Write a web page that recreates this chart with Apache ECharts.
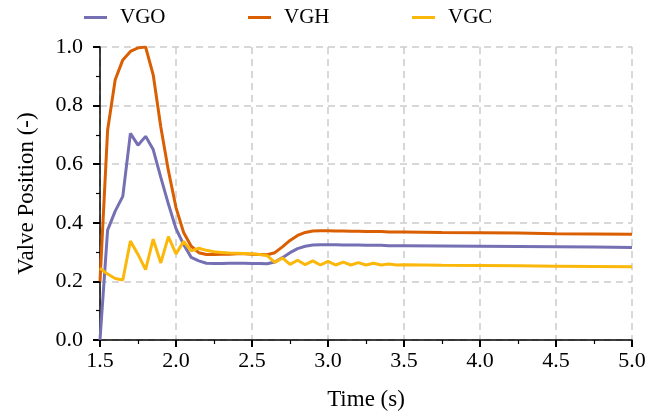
<!DOCTYPE html>
<html>
<head>
<meta charset="utf-8">
<script src="https://cdn.jsdelivr.net/npm/echarts@6/dist/echarts.min.js"></script>
<style>
  html, body { margin: 0; padding: 0; background: #fff; }
  #chart { width: 660px; height: 419px; }
</style>
</head>
<body>
<div id="chart"></div>
<script>
  // time stamps (s)
  var times = [1.50, 1.55, 1.60, 1.65, 1.70, 1.75, 1.80, 1.85, 1.90, 1.95,
    2.00, 2.05, 2.10, 2.15, 2.20, 2.25, 2.30, 2.35, 2.40, 2.45,
    2.50, 2.55, 2.60, 2.65, 2.70, 2.75, 2.80, 2.85, 2.90, 2.95,
    3.00, 3.05, 3.10, 3.15, 3.20, 3.25, 3.30, 3.35, 3.40, 3.45,
    3.50, 3.75, 4.00, 4.25, 4.50, 4.75, 5.00];
  // valve positions
  var vgo = [0, 0.375, 0.44, 0.49, 0.705, 0.665, 0.695, 0.65, 0.555, 0.464,
    0.38, 0.326, 0.282, 0.27, 0.262, 0.261, 0.261, 0.262, 0.262, 0.262,
    0.261, 0.261, 0.26, 0.266, 0.281, 0.298, 0.312, 0.32, 0.324, 0.325,
    0.325, 0.325, 0.324, 0.324, 0.324, 0.323, 0.323, 0.323, 0.322, 0.322,
    0.322, 0.321, 0.32, 0.319, 0.318, 0.317, 0.316];
  var vgh = [0.2, 0.716, 0.888, 0.956, 0.985, 0.997, 1.0, 0.905, 0.727, 0.578,
    0.452, 0.367, 0.32, 0.298, 0.292, 0.292, 0.293, 0.293, 0.294, 0.294,
    0.293, 0.292, 0.291, 0.298, 0.318, 0.34, 0.357, 0.367, 0.372, 0.373,
    0.373, 0.372, 0.372, 0.371, 0.371, 0.37, 0.37, 0.37, 0.369, 0.369,
    0.369, 0.367, 0.366, 0.365, 0.363, 0.362, 0.361];
  var vgc = [0.245, 0.225, 0.21, 0.205, 0.338, 0.292, 0.24, 0.344, 0.263, 0.353,
    0.294, 0.336, 0.304, 0.313, 0.306, 0.301, 0.299, 0.297, 0.296, 0.295,
    0.294, 0.292, 0.288, 0.265, 0.28, 0.258, 0.272, 0.257, 0.27, 0.256,
    0.268, 0.256, 0.266, 0.256, 0.264, 0.256, 0.262, 0.256, 0.259, 0.256,
    0.257, 0.255, 0.254, 0.253, 0.252, 0.251, 0.25];

  var seriesNames = ['VGO', 'VGH', 'VGC'];
  var colors = ['#7570b3', '#d95f02', '#fbb80b'];
  var font = 'Liberation Serif';

  var myChart = echarts.init(document.getElementById('chart'));

  function pairs (vals) {
    return times.map(function (t, i) { return [t, vals[i]]; });
  }

  // 每个图例单独定位
  var legendLeft = [84, 248, 412];
  var legends = seriesNames.map(function (name, i) {
    return {
      data: [name],
      left: legendLeft[i],
      top: 7,
      padding: 0,
      icon: 'rect',
      itemWidth: 23,
      itemHeight: 3,
      textStyle: {
        fontFamily: font,
        fontSize: 21,
        color: '#000',
        padding: [0, 0, 0, 8]
      }
    };
  });

  var axisCommon = {
    axisLine: { lineStyle: { color: '#000', width: 1.5 } },
    axisTick: { length: 7, lineStyle: { color: '#000', width: 2 } },
    minorTick: { show: true, splitNumber: 2, length: 4, lineStyle: { color: '#000', width: 1.2 } },
    splitLine: { show: true, lineStyle: { color: '#cccccc', width: 1.5, type: [7, 5] } },
    nameTextStyle: { fontFamily: font, fontSize: 23, color: '#000' }
  };

  var opt = {
    animation: false,
    color: colors,
    legend: legends,
    grid: { left: 100, right: 28, top: 47, bottom: 79, containLabel: false },
    xAxis: Object.assign({
      type: 'value',
      min: 1.5,
      max: 5.0,
      interval: 0.5,
      name: 'Time (s)',
      nameLocation: 'middle',
      nameGap: 48,
      axisLabel: {
        fontFamily: font, fontSize: 22, color: '#000', margin: 10,
        formatter: function (v) { return v.toFixed(1); }
      }
    }, axisCommon),
    yAxis: Object.assign({
      type: 'value',
      min: 0,
      max: 1,
      interval: 0.2,
      name: 'Valve Position (-)',
      nameLocation: 'middle',
      nameGap: 62,
      axisLabel: {
        fontFamily: font, fontSize: 22, color: '#000', margin: 17,
        formatter: function (v) { return v.toFixed(1); }
      }
    }, axisCommon),
    series: [
      { name: 'VGO', type: 'line', data: pairs(vgo) },
      { name: 'VGH', type: 'line', data: pairs(vgh) },
      { name: 'VGC', type: 'line', data: pairs(vgc) }
    ].map(function (s) {
      s.showSymbol = false;
      s.symbol = 'none';
      s.lineStyle = { width: 3 };
      return s;
    })
  };

  myChart.setOption(opt);
</script>
</body>
</html>
